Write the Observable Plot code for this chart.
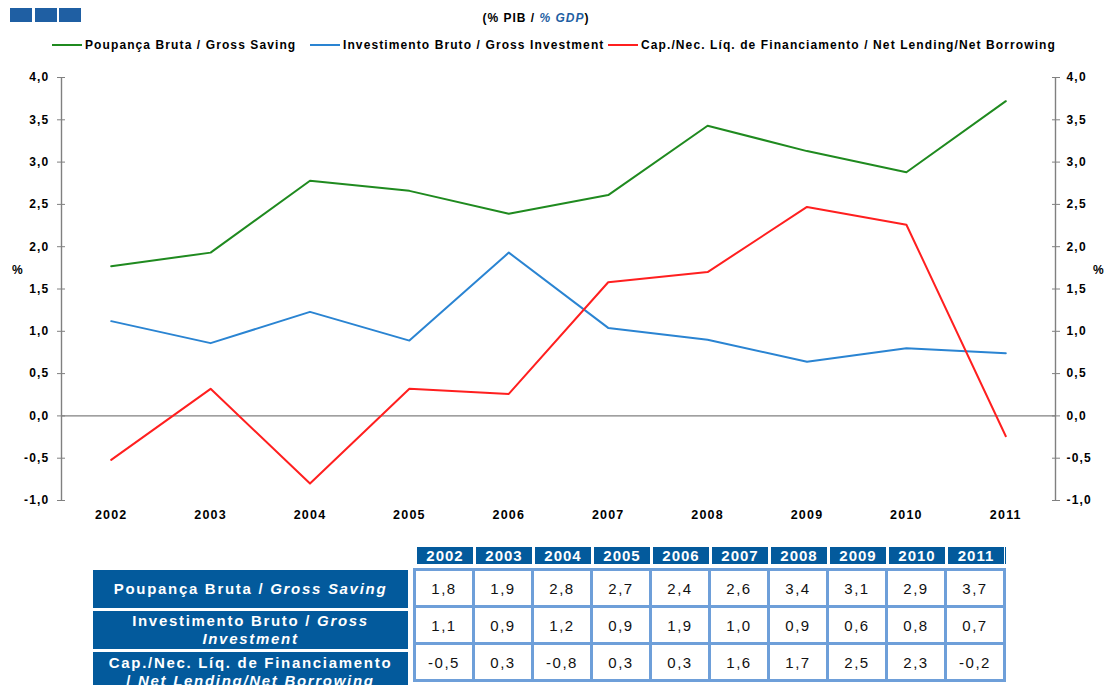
<!DOCTYPE html>
<html>
<head>
<meta charset="utf-8">
<script src="https://cdn.jsdelivr.net/npm/d3@7"></script>
<script src="https://cdn.jsdelivr.net/npm/@observablehq/plot@0.6"></script>
<style>
  html, body { margin: 0; padding: 0; background: #fff; overflow: hidden; }
  #root { position: relative; width: 1106px; height: 685px; overflow: hidden; font-family: "Liberation Sans", Arial, sans-serif; }
  .abs { position: absolute; }
  .sq { position: absolute; top: 8px; width: 22px; height: 14px; background: #1f5fa3; }
  .leg { position: absolute; top: 38px; font-size: 12px; font-weight: bold; color: #000; white-space: nowrap; display: flex; align-items: center; letter-spacing: 1.1px; }
  .leg span.ln { display: inline-block; width: 30px; height: 2px; margin-right: 3px; }
  .pct { position: absolute; top: 263px; font-size: 12px; font-weight: bold; }
  .hdr { position: absolute; top: 547px; width: 56px; height: 17px; background: #035a9c; color: #fff; font-weight: bold; font-size: 15px; letter-spacing: 1px; text-align: center; line-height: 17px; }
  .lab { position: absolute; left: 93px; width: 315px; background: #035a9c; color: #fff; font-weight: bold; font-size: 15px; letter-spacing: 1.7px; text-align: center; line-height: 18px; display: flex; align-items: center; justify-content: center; }
  table.grid { position: absolute; left: 413px; top: 568px; border-collapse: collapse; }
  table.grid td { border: 3px solid #6e9fd9; width: 56px; height: 34px; padding: 0; text-align: center; font-size: 15px; color: #111; letter-spacing: 1.5px; }
  svg text { letter-spacing: 1.2px; }
</style>
</head>
<body>
<div id="root"></div>
<script>
const years = [2002, 2003, 2004, 2005, 2006, 2007, 2008, 2009, 2010, 2011];
const saving = [1.77, 1.93, 2.78, 2.66, 2.39, 2.61, 3.43, 3.13, 2.88, 3.72];
const investment = [1.12, 0.86, 1.23, 0.89, 1.93, 1.04, 0.90, 0.64, 0.80, 0.74];
const netLending = [-0.52, 0.32, -0.80, 0.32, 0.26, 1.58, 1.70, 2.47, 2.26, -0.24];
const yTicks = [-1, -0.5, 0, 0.5, 1, 1.5, 2, 2.5, 3, 3.5, 4];
const seriesNames = ["Poupança Bruta / Gross Saving", "Investimento Bruto / Gross Investment", "Cap./Nec. Líq. de Financiamento / Net Lending/Net Borrowing"];
const seriesColors = ["#1f8a1f", "#2a84d2", "#ff1f1f"];
const rowLabels = [
  ["Poupança Bruta / ", "Gross Saving"],
  ["Investimento Bruto / ", "Gross<br>Investment"],
  ["Cap./Nec. Líq. de Financiamento<br>/ ", "Net Lending/Net Borrowing"]
];

const seriesValues = [saving, investment, netLending];
const rows = [];
seriesValues.forEach((arr, s) => arr.forEach((v, i) => rows.push({year: years[i], value: v, series: seriesNames[s]})));
const fmt = v => v.toFixed(1).replace(".", ",");

const root = document.getElementById("root");

const chart = Plot.plot({
  width: 1106,
  height: 530,
  marginLeft: 61,
  marginRight: 51,
  marginTop: 77,
  marginBottom: 30,
  style: {fontFamily: "'Liberation Sans', Arial, sans-serif", fontSize: "12px", fontWeight: "bold", color: "#000", background: "transparent"},
  x: {type: "linear", domain: [2001.5, 2011.5]},
  y: {domain: [-1, 4]},
  color: {domain: seriesNames, range: seriesColors},
  marks: [
    Plot.ruleY([0], {stroke: "#808080", strokeWidth: 1.2}),
    Plot.ruleX([2001.5, 2011.5], {stroke: "#808080", strokeWidth: 1.4}),
    Plot.axisY({anchor: "left", ticks: yTicks, tickSize: 8, dx: 4, tickFormat: () => "", stroke: "#808080", label: null}),
    Plot.axisY({anchor: "left", ticks: yTicks, tickSize: 0, tickPadding: 12, tickFormat: fmt, label: null}),
    Plot.axisY({anchor: "right", ticks: yTicks, tickSize: 8, dx: -4, tickFormat: () => "", stroke: "#808080", label: null}),
    Plot.axisY({anchor: "right", ticks: yTicks, tickSize: 0, tickPadding: 11, tickFormat: fmt, label: null}),
    Plot.axisX({ticks: years, tickSize: 0, tickPadding: 10, tickFormat: d => String(d), label: null, fontSize: 12.5}),
    Plot.line(rows, {x: "year", y: "value", z: "series", stroke: "series", strokeWidth: 2})
  ]
});
chart.style.position = "absolute";
chart.style.left = "0px";
chart.style.top = "0px";
root.appendChild(chart);

// header squares
[10, 35, 59].forEach(x => {
  const d = document.createElement("div");
  d.className = "sq"; d.style.left = x + "px";
  root.appendChild(d);
});

// subtitle
const sub = document.createElement("div");
sub.className = "abs";
sub.style.cssText = "left:0;width:1072px;top:11px;text-align:center;font-size:12px;font-weight:bold;letter-spacing:1px;";
sub.innerHTML = '(% PIB / <i style="color:#1f5fa3">% GDP</i>)';
root.appendChild(sub);

// legend
const legX = [52, 310, 608];
seriesNames.forEach((n, i) => {
  const d = document.createElement("div");
  d.className = "leg"; d.style.left = legX[i] + "px";
  d.innerHTML = `<span class="ln" style="background:${seriesColors[i]}"></span>${n}`;
  root.appendChild(d);
});

// % labels
[12, 1093].forEach(x => {
  const d = document.createElement("div");
  d.className = "pct"; d.style.left = x + "px"; d.textContent = "%";
  root.appendChild(d);
});

// table header
years.forEach((y, i) => {
  const d = document.createElement("div");
  d.className = "hdr"; d.style.left = (417 + i * 59) + "px";
  d.textContent = y;
  root.appendChild(d);
});
const edge = document.createElement("div");
edge.className = "abs";
edge.style.cssText = "left:1005px;top:547px;width:1px;height:17px;background:#035a9c;";
root.appendChild(edge);

// row labels
const labTops = [570, 611, 652];
const labH = [38, 38, 40];
rowLabels.forEach((r, i) => {
  const d = document.createElement("div");
  d.className = "lab"; d.style.top = labTops[i] + "px"; d.style.height = labH[i] + "px";
  d.innerHTML = `<div>${r[0]}<i>${r[1]}</i></div>`;
  root.appendChild(d);
});

// data grid
const tbl = document.createElement("table");
tbl.className = "grid";
seriesValues.forEach(arr => {
  const tr = document.createElement("tr");
  arr.forEach(v => {
    const td = document.createElement("td");
    td.textContent = fmt(v);
    tr.appendChild(td);
  });
  tbl.appendChild(tr);
});
root.appendChild(tbl);
</script>
</body>
</html>
